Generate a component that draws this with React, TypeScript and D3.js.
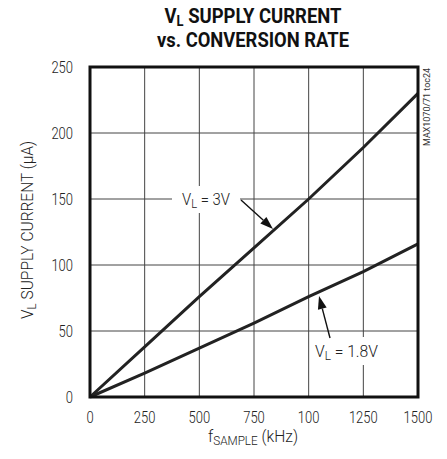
import React from "react";
import * as d3 from "d3";

const freqs = [0, 250, 500, 750, 1000, 1250, 1500];
const series3V = [0, 38, 76, 113, 150, 189, 230];
const series18V = [0, 18, 37, 56, 76, 95, 116];
const xTicks = [0, 250, 500, 750, 1000, 1250, 1500];
const xTickLabels = ["0", "250", "500", "750", "100", "1250", "1500"];
const yTicks = [0, 50, 100, 150, 200, 250];

const W = 447;
const H = 459;
const M = { left: 90, right: 418, top: 67, bottom: 397 };
const FONT = "'Roboto', 'Liberation Sans', sans-serif";

const digitW = (s: string) => s.length * 7.2;

export default function App() {
  const x = d3.scaleLinear().domain([0, 1500]).range([M.left, M.right]);
  const y = d3.scaleLinear().domain([0, 250]).range([M.bottom, M.top]);
  const line = d3
    .line<number>()
    .x((_, i) => x(freqs[i]))
    .y((d) => y(d));

  const arrow = (x1: number, y1: number, x2: number, y2: number) => {
    const ang = Math.atan2(y2 - y1, x2 - x1);
    const len = 13;
    const half = 4.5;
    const bx = x2 - len * Math.cos(ang);
    const by = y2 - len * Math.sin(ang);
    const px = -Math.sin(ang) * half;
    const py = Math.cos(ang) * half;
    return (
      <g>
        <line x1={x1} y1={y1} x2={bx} y2={by} stroke="#111" strokeWidth={1.4} />
        <path d={`M${x2},${y2}L${bx + px},${by + py}L${bx - px},${by - py}Z`} fill="#111" />
      </g>
    );
  };

  return (
    <svg width={W} height={H} style={{ position: "absolute", left: 0, top: 0, background: "#fff" }} fontFamily={FONT}>
      <rect x={0} y={0} width={W} height={H} fill="#fff" />
      {/* title */}
      <text x={253} y={23} textAnchor="middle" fontSize={20} fontWeight="bold" fill="#111" textLength={177} lengthAdjust="spacingAndGlyphs">
        V<tspan fontSize={14} dy={3}>L</tspan><tspan dy={-3}> SUPPLY CURRENT</tspan>
      </text>
      <text x={253} y={47} textAnchor="middle" fontSize={20} fontWeight="bold" fill="#111" textLength={192} lengthAdjust="spacingAndGlyphs">
        vs. CONVERSION RATE
      </text>

      {/* grid */}
      {xTicks.slice(1, -1).map((t) => (
        <line key={"gx" + t} x1={x(t)} x2={x(t)} y1={M.top} y2={M.bottom} stroke="#444" strokeWidth={1} />
      ))}
      {yTicks.slice(1, -1).map((t) => (
        <line key={"gy" + t} x1={M.left} x2={M.right} y1={y(t)} y2={y(t)} stroke="#444" strokeWidth={1} />
      ))}

      {/* label backgrounds */}
      <rect x={172} y={186} width={68} height={27} fill="#fff" />
      <rect x={312} y={337} width={70} height={28} fill="#fff" />

      {/* series */}
      <path d={line(series3V) || ""} fill="none" stroke="#222" strokeWidth={3} />
      <path d={line(series18V) || ""} fill="none" stroke="#222" strokeWidth={3} />

      {/* border */}
      <rect x={M.left} y={M.top} width={M.right - M.left} height={M.bottom - M.top} fill="none" stroke="#111" strokeWidth={3} />

      {/* y ticks */}
      {yTicks.map((t) => (
        <text key={"yt" + t} x={73} y={y(t) + 6} textAnchor="end" fontSize={17} fontWeight={300} fill="#222"
          textLength={digitW(String(t))} lengthAdjust="spacingAndGlyphs">
          {t}
        </text>
      ))}
      {/* x ticks */}
      {xTicks.map((t, i) => (
        <text key={"xt" + t} x={x(t)} y={423} textAnchor="middle" fontSize={17} fontWeight={300} fill="#222"
          textLength={digitW(xTickLabels[i])} lengthAdjust="spacingAndGlyphs">
          {xTickLabels[i]}
        </text>
      ))}

      {/* axis titles */}
      <text transform="translate(33,230) rotate(-90)" textAnchor="middle" fontSize={16} fontWeight={300} fill="#222"
        textLength={178} lengthAdjust="spacingAndGlyphs">
        V<tspan fontSize={12} dy={3}>L</tspan><tspan dy={-3}> SUPPLY CURRENT (µA)</tspan>
      </text>
      <text x={253} y={442} textAnchor="middle" fontSize={16} fontWeight={300} fill="#222"
        textLength={90} lengthAdjust="spacingAndGlyphs">
        f<tspan fontSize={12} dy={3}>SAMPLE</tspan><tspan dy={-3}> (kHz)</tspan>
      </text>

      {/* side code */}
      <text transform="translate(430,146) rotate(-90)" textAnchor="start" fontSize={9} fill="#333" textLength={78} lengthAdjust="spacingAndGlyphs">
        MAX1070/71 toc24
      </text>

      {/* annotations */}
      <text x={182} y={205} fontSize={16} fontWeight={300} fill="#222" textLength={48} lengthAdjust="spacingAndGlyphs">
        V<tspan fontSize={12} dy={3}>L</tspan><tspan dy={-3}> = 3V</tspan>
      </text>
      {arrow(241, 200, 273, 229)}
      <text x={315} y={357} fontSize={16} fontWeight={300} fill="#222" textLength={63} lengthAdjust="spacingAndGlyphs">
        V<tspan fontSize={12} dy={3}>L</tspan><tspan dy={-3}> = 1.8V</tspan>
      </text>
      {arrow(330, 338, 319, 296)}
    </svg>
  );
}
